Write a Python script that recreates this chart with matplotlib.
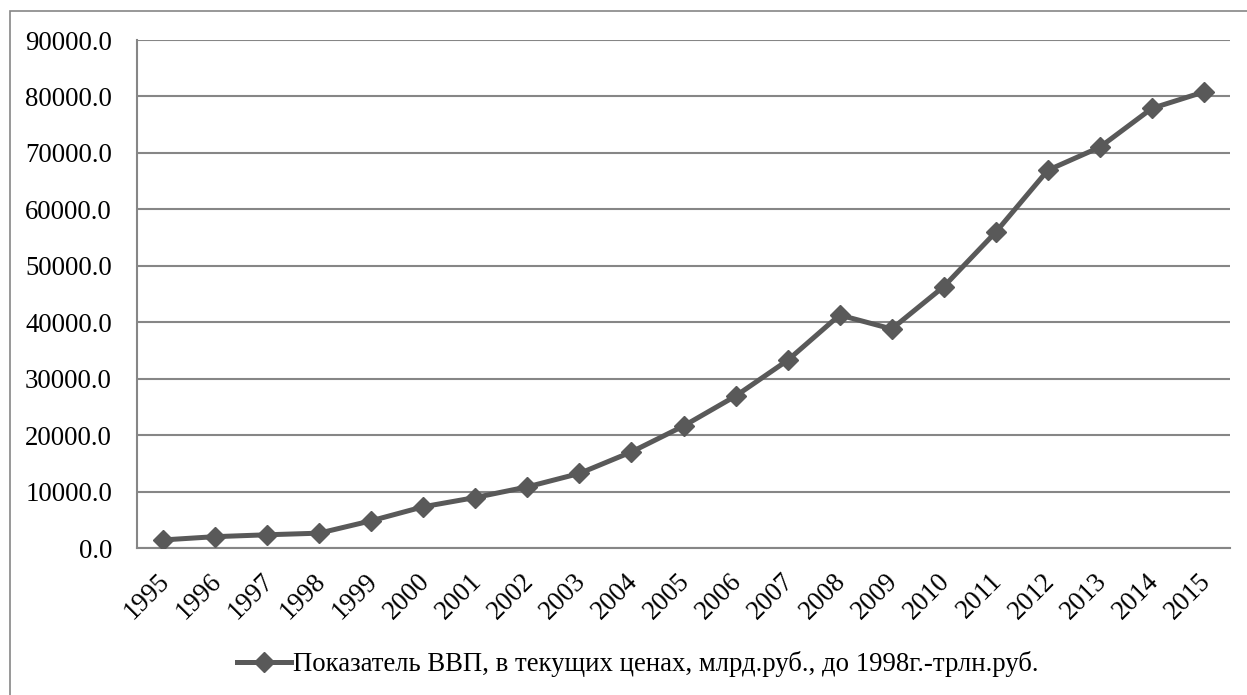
import matplotlib
matplotlib.use("Agg")
import matplotlib.pyplot as plt
import matplotlib.transforms as mtransforms
from matplotlib.patches import Rectangle

years = ["1995", "1996", "1997", "1998", "1999", "2000", "2001", "2002", "2003", "2004",
         "2005", "2006", "2007", "2008", "2009", "2010", "2011", "2012", "2013", "2014", "2015"]
gdp = [1428.5, 2007.8, 2342.5, 2629.6, 4823.2, 7305.6, 8943.6, 10830.5, 13208.2, 17027.2,
       21609.8, 26917.2, 33247.5, 41276.8, 38807.2, 46308.5, 55967.2, 66926.9, 71016.7,
       77893.1, 80804.3]
series_name = "Показатель ВВП, в текущих ценах, млрд.руб., до 1998г.-трлн.руб."
y_ticks = [0, 10000, 20000, 30000, 40000, 50000, 60000, 70000, 80000, 90000]

plt.rcParams['font.family'] = ['Liberation Serif', 'DejaVu Serif']

W, H = 1247, 695
fig = plt.figure(figsize=(W / 100, H / 100), dpi=100)
ax = fig.add_axes([137 / W, 1 - 548 / H, (1230 - 137) / W, (548 - 40) / H])

grid_c = "#868686"
line_c = "#595959"
fs = 19.3

x = list(range(len(years)))
ax.plot(x, gdp, color=line_c, lw=3.6, marker="D", markersize=10,
        markerfacecolor=line_c, markeredgecolor=line_c, label=series_name, zorder=3)

ax.set_xlim(-0.5, len(years) - 0.5)
ax.set_ylim(0, 90000)
ax.set_yticks(y_ticks)
ax.set_yticklabels([f"{v:.1f}" for v in y_ticks], fontsize=fs)
ax.set_xticks(x)
ax.set_xticklabels(years, fontsize=fs, rotation=45, ha="right", va="top",
                   rotation_mode="anchor")
ax.tick_params(axis="y", length=0, pad=18)
ax.tick_params(axis="x", length=0, pad=15)
shift = mtransforms.ScaledTranslation(-6 / 100, 0, fig.dpi_scale_trans)
for lab in ax.get_xticklabels():
    lab.set_transform(lab.get_transform() + shift)
ax.yaxis.grid(True, color=grid_c, lw=1.5)
ax.set_axisbelow(True)
for s in ["top", "right"]:
    ax.spines[s].set_visible(False)
for s in ["left", "bottom"]:
    ax.spines[s].set_color(grid_c)
    ax.spines[s].set_linewidth(1.5)

# outer chart border
fig.patches.append(Rectangle((10 / W, -0.1), 1.2, 1 - 11 / H + 0.1, transform=fig.transFigure,
                             fill=False, edgecolor=grid_c, lw=1.2))

fig.legend(loc="center", bbox_to_anchor=(638 / W, 1 - 664 / H), frameon=False,
           fontsize=fs, handlelength=2.0, handletextpad=0.1)

fig.savefig("out.png", dpi=100)
